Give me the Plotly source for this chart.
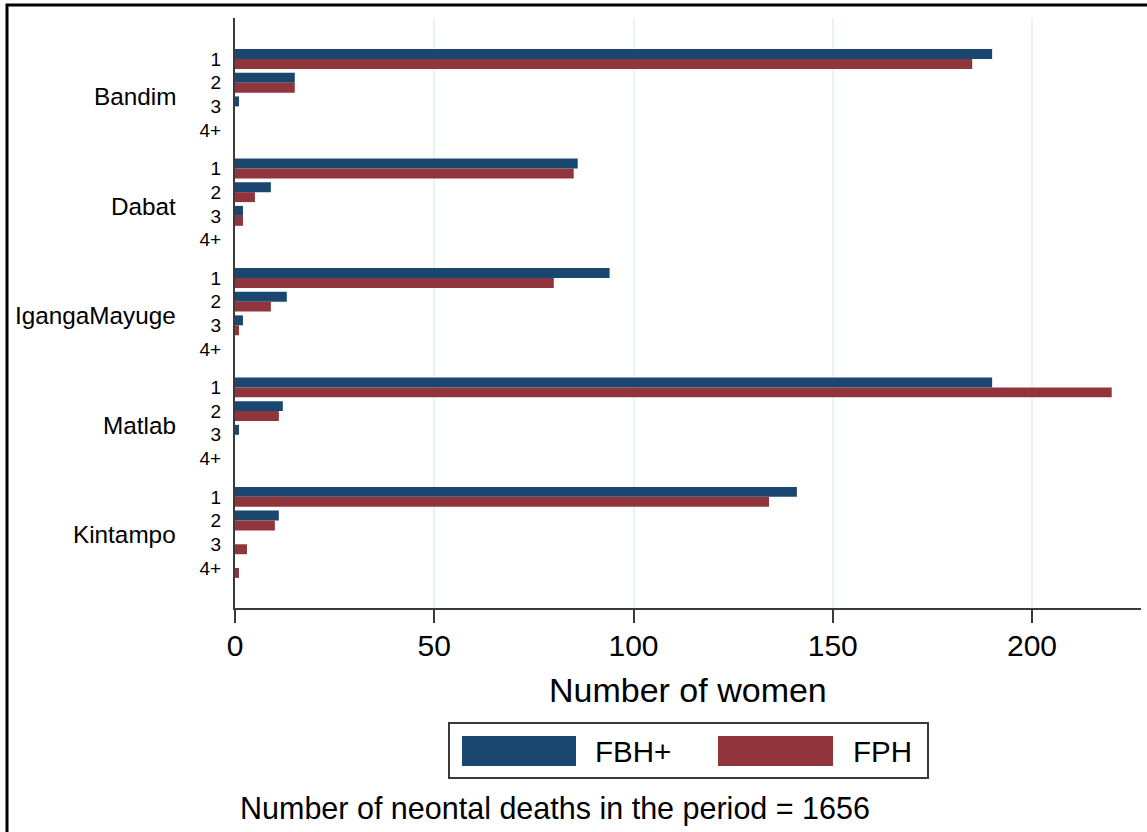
import plotly.graph_objects as go

# Study sites (top to bottom) and number-of-births categories within each site
sites = ["Bandim", "Dabat", "IgangaMayuge", "Matlab", "Kintampo"]
subgroups = ["1", "2", "3", "4+"]

# Number of women per site x subgroup, one list per site
fbh_plus = {
    "Bandim":       [190, 15, 1, 0],
    "Dabat":        [86, 9, 2, 0],
    "IgangaMayuge": [94, 13, 2, 0],
    "Matlab":       [190, 12, 1, 0],
    "Kintampo":     [141, 11, 0, 0],
}
fph = {
    "Bandim":       [185, 15, 0, 0],
    "Dabat":        [85, 5, 2, 0],
    "IgangaMayuge": [80, 9, 1, 0],
    "Matlab":       [220, 11, 0, 0],
    "Kintampo":     [134, 10, 3, 1],
}

x_ticks = [0, 50, 100, 150, 200]
series_names = ["FBH+", "FPH"]
note_text = "Number of neontal deaths in the period = 1656"

NAVY = "#1a476f"
MAROON = "#90353b"
GRID = "#eaf2f3"
AXIS = "#3a3a3a"
FONT = "Liberation Sans, Arial, sans-serif"

W, H = 1147, 832
L, R, T, B = 235, 6, 18, 224
PW, PH = W - L - R, H - T - B

GROUP_STEP = 4.62  # spacing between site blocks, in subgroup units


def px_x(px):
    return (px - L) / PW


def px_y(py):
    return (H - B - py) / PH


# numeric category positions
pos, labels = [], []
for g, site in enumerate(sites):
    for s, sub in enumerate(subgroups):
        pos.append(g * GROUP_STEP + s)
        labels.append(sub)

fbh_vals = [v for site in sites for v in fbh_plus[site]]
fph_vals = [v for site in sites for v in fph[site]]

fig = go.Figure()
fig.add_trace(go.Bar(y=pos, x=fbh_vals, orientation="h", name=series_names[0],
                     marker=dict(color=NAVY, line=dict(width=0)), showlegend=False))
fig.add_trace(go.Bar(y=pos, x=fph_vals, orientation="h", name=series_names[1],
                     marker=dict(color=MAROON, line=dict(width=0)), showlegend=False))

y_top = -1.73
y_bot = pos[-1] + 1.69

fig.update_layout(
    width=W, height=H,
    margin=dict(l=L, r=R, t=T, b=B, pad=0),
    paper_bgcolor="white", plot_bgcolor="white",
    barmode="group", bargap=0.16, bargroupgap=0,
    font=dict(family=FONT, color="black"),
    xaxis=dict(
        range=[0, PW / 3.985], tickvals=x_ticks, ticktext=[str(t) for t in x_ticks],
        showgrid=True, gridcolor=GRID, gridwidth=2, zeroline=False,
        showline=True, linecolor=AXIS, linewidth=2,
        ticks="outside", ticklen=13, tickwidth=2, tickcolor=AXIS,
        ticklabelstandoff=-3,
        tickfont=dict(size=30, family=FONT, color="black"),
    ),
    yaxis=dict(
        range=[y_bot, y_top], tickvals=pos, ticktext=labels,
        showgrid=False, zeroline=False,
        showline=True, linecolor=AXIS, linewidth=2,
        ticks="", ticklabelstandoff=8,
        tickfont=dict(size=19, family=FONT, color="black"),
    ),
)

# site labels
for g, site in enumerate(sites):
    fig.add_annotation(x=px_x(178), xref="paper", y=g * GROUP_STEP + 1.6, yref="y",
                       text=site, showarrow=False, xanchor="right", yanchor="middle",
                       font=dict(size=24.3, family=FONT, color="black"))

# axis title
fig.add_annotation(x=0.5, xref="paper", y=px_y(690), yref="paper",
                   text="Number of women", showarrow=False,
                   xanchor="center", yanchor="middle",
                   font=dict(size=34, family=FONT, color="black"))

# legend box with wide swatches
fig.add_shape(type="rect", xref="paper", yref="paper",
              x0=px_x(449), x1=px_x(928), y0=px_y(778), y1=px_y(723),
              line=dict(color=AXIS, width=2), fillcolor="white", layer="above")
for (x0, x1, tx, color, name) in [(462, 576, 593, NAVY, series_names[0]),
                                  (718, 833, 851, MAROON, series_names[1])]:
    fig.add_shape(type="rect", xref="paper", yref="paper",
                  x0=px_x(x0), x1=px_x(x1), y0=px_y(766), y1=px_y(736),
                  line=dict(width=0), fillcolor=color, layer="above")
    fig.add_annotation(x=px_x(tx), xref="paper", y=px_y(751), yref="paper",
                       text=name, showarrow=False, xanchor="left", yanchor="middle",
                       font=dict(size=29.5, family=FONT, color="black"))

# note below legend
fig.add_annotation(x=px_x(238), xref="paper", y=px_y(808), yref="paper",
                   text=note_text, showarrow=False, xanchor="left", yanchor="middle",
                   font=dict(size=30.5, family=FONT, color="black"))

# outer frame
fig.add_shape(type="rect", xref="paper", yref="paper",
              x0=px_x(7), x1=px_x(1170), y0=px_y(860), y1=px_y(5),
              line=dict(color="black", width=3), fillcolor="rgba(0,0,0,0)", layer="above")

fig.write_html("out.html")
